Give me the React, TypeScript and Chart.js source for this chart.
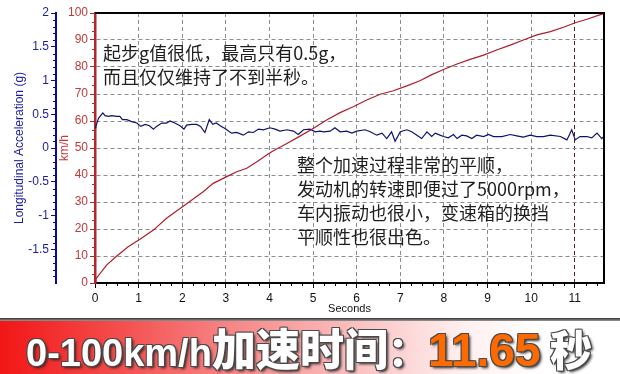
import React, { useEffect, useRef } from "react";
import { Chart, registerables } from "chart.js";

Chart.register(...registerables);

// ---- data ----
const SPEED_TIME = [0, 0.02, 0.27, 0.5, 0.76, 1.03, 1.34, 1.64, 2.03, 2.48, 2.71, 3.02, 3.25, 3.48, 3.72, 3.97, 4.09, 4.4, 4.7, 5.01, 5.31, 5.62, 5.92, 6.23, 6.54, 6.84, 7.15, 7.45, 7.7, 7.99, 8.3, 8.6, 8.91, 9.21, 9.52, 9.82, 10.13, 10.44, 10.74, 11.01, 11.28, 11.62, 11.67];
const SPEED_KMH = [0, 1.5, 6.7, 10, 13.4, 16.2, 19.6, 24, 28.5, 33.8, 36.9, 39.4, 41.2, 42.5, 45.0, 47.8, 49, 51.7, 54.4, 57.3, 60.4, 63.1, 65.3, 67.8, 69.9, 71.2, 73, 74.9, 77, 79.1, 81.1, 82.8, 84.4, 86.3, 88.1, 90, 91.9, 93.1, 94.7, 96.4, 97.7, 99.6, 100];

const ACCEL_TIME = [0, 0.02, 0.08, 0.18, 0.23, 0.31, 0.38, 0.5, 0.57, 0.63, 0.73, 0.84, 0.96, 1.05, 1.15, 1.25, 1.34, 1.41, 1.53, 1.64, 1.72, 1.83, 1.95, 2.04, 2.1, 2.22, 2.33, 2.42, 2.52, 2.62, 2.7, 2.78, 2.87, 2.98, 3.13, 3.25, 3.4, 3.52, 3.63, 3.75, 3.86, 4.01, 4.13, 4.24, 4.4, 4.55, 4.66, 4.78, 4.93, 5.05, 5.16, 5.24, 5.39, 5.5, 5.62, 5.77, 5.89, 6.0, 6.19, 6.31, 6.46, 6.58, 6.69, 6.8, 6.88, 7.0, 7.15, 7.26, 7.38, 7.49, 7.61, 7.72, 7.8, 7.91, 7.99, 8.1, 8.22, 8.3, 8.41, 8.52, 8.64, 8.75, 8.91, 9.02, 9.14, 9.33, 9.52, 9.67, 9.82, 9.98, 10.13, 10.28, 10.44, 10.67, 10.82, 10.93, 11.01, 11.12, 11.28, 11.39, 11.51, 11.62, 11.66];
const ACCEL_G = [0.3, 0.32, 0.44, 0.52, 0.48, 0.47, 0.48, 0.47, 0.47, 0.42, 0.42, 0.39, 0.37, 0.32, 0.35, 0.33, 0.28, 0.32, 0.37, 0.37, 0.4, 0.37, 0.33, 0.28, 0.34, 0.35, 0.35, 0.32, 0.23, 0.42, 0.35, 0.37, 0.33, 0.29, 0.22, 0.23, 0.19, 0.24, 0.23, 0.28, 0.27, 0.3, 0.28, 0.25, 0.27, 0.25, 0.2, 0.27, 0.28, 0.24, 0.25, 0.24, 0.25, 0.3, 0.24, 0.25, 0.22, 0.25, 0.27, 0.24, 0.19, 0.22, 0.14, 0.24, 0.1, 0.24, 0.27, 0.24, 0.19, 0.14, 0.24, 0.17, 0.22, 0.19, 0.17, 0.15, 0.2, 0.14, 0.19, 0.18, 0.14, 0.19, 0.17, 0.2, 0.17, 0.17, 0.2, 0.18, 0.16, 0.19, 0.17, 0.17, 0.19, 0.17, 0.12, 0.27, 0.12, 0.17, 0.17, 0.15, 0.22, 0.14, 0.17];

const X_TICKS = [0, 1, 2, 3, 4, 5, 6, 7, 8, 9, 10, 11];
const X_MAX = 11.67;
const KMH_TICKS = [0, 10, 20, 30, 40, 50, 60, 70, 80, 90, 100];
const G_TICKS = [2, 1.5, 1, 0.5, 0, -0.5, -1, -1.5];

const X_TITLE = "Seconds";
const KMH_TITLE = "km/h";
const G_TITLE = "Longitudinal Acceleration (g)";

const NOTE_1 = ["起步g值很低，最高只有0.5g，", "而且仅仅维持了不到半秒。"];
const NOTE_2 = ["整个加速过程非常的平顺，", "发动机的转速即便过了5000rpm，", "车内振动也很小，变速箱的换挡", "平顺性也很出色。"];
const BANNER_LATIN = "0-100km/h";
const BANNER_CJK = "加速时间";
const BANNER_COLON = "：";
const BANNER_VALUE = "11.65";
const BANNER_UNIT = "秒";

const RED = "#b3262b";
const BLUE = "#0a0aa0";
const GRID = "#8c8c8c";

const frame = {
  id: "frame",
  afterDraw(chart: any) {
    const { ctx, chartArea: a, scales } = chart;
    ctx.save();
    ctx.strokeStyle = "#000";
    ctx.lineWidth = 2;
    ctx.beginPath();
    ctx.moveTo(a.left, a.top);
    ctx.lineTo(a.right, a.top);
    ctx.lineTo(a.right, a.bottom);
    ctx.stroke();
    ctx.lineWidth = 1;
    const x = scales.x;
    ctx.strokeStyle = "#000";
    ctx.beginPath();
    for (let v = 0.25; v < X_MAX; v += 0.25) {
      if (Math.abs(v - Math.round(v)) < 1e-6) continue;
      const px = Math.round(x.getPixelForValue(v)) + 0.5;
      ctx.moveTo(px, a.bottom);
      ctx.lineTo(px, a.bottom + 3);
    }
    ctx.stroke();
    const k = scales.yKmh;
    ctx.strokeStyle = RED;
    ctx.beginPath();
    for (let v = 0; v < 100; v += 10) {
      for (const f of [10 / 3, 20 / 3]) {
        const py = Math.round(k.getPixelForValue(v + f)) + 0.5;
        ctx.moveTo(k.right - 3, py);
        ctx.lineTo(k.right, py);
      }
    }
    ctx.stroke();
    const g = scales.yG;
    ctx.strokeStyle = BLUE;
    ctx.beginPath();
    for (let i = -20; i <= 20; i++) {
      if (i % 5 === 0) continue;
      const py = Math.round(g.getPixelForValue(i / 10)) + 0.5;
      ctx.moveTo(g.right - 3, py);
      ctx.lineTo(g.right, py);
    }
    ctx.stroke();
    ctx.restore();
  },
};

function ChartCanvas() {
  const ref = useRef<HTMLCanvasElement>(null);
  useEffect(() => {
    if (!ref.current) return;
    Chart.defaults.font.family = "'Liberation Sans', Arial, sans-serif";
    const speed = SPEED_TIME.map((t, i) => ({ x: t, y: SPEED_KMH[i] }));
    const accel = ACCEL_TIME.map((t, i) => ({ x: t, y: ACCEL_G[i] }));
    const chart = new Chart(ref.current, {
      type: "line",
      data: {
        datasets: [
          {
            label: "Speed",
            data: speed,
            yAxisID: "yKmh",
            borderColor: "#b01c2c",
            borderWidth: 1.2,
            pointRadius: 0,
            tension: 0,
          },
          {
            label: "Acceleration",
            data: accel,
            yAxisID: "yG",
            borderColor: "#101070",
            borderWidth: 1.2,
            pointRadius: 0,
            tension: 0,
          },
        ],
      },
      options: {
        responsive: false,
        animation: false,
        devicePixelRatio: 1,
        layout: { padding: { top: 13, right: 16, left: 0, bottom: 0 } },
        plugins: { legend: { display: false }, tooltip: { enabled: false } },
        scales: {
          x: {
            type: "linear",
            min: 0,
            max: X_MAX,
            afterBuildTicks: (s: any) => {
              s.ticks = X_TICKS.map((v) => ({ value: v }));
            },
            afterFit: (s: any) => {
              s.height = 37;
            },
            grid: {
              color: (c: any) => {
                const v = c.tick ? c.tick.value : -1;
                if (v === 0) return "rgba(0,0,0,0)";
                if (v === 11) return "#5a2020";
                return GRID;
              },
              lineWidth: 1,
              tickLength: 5,
              tickColor: "#000",
            },
            border: { color: "#000", width: 2, dash: [4, 3] },
            ticks: {
              color: "#111",
              font: { size: 12 },
              padding: 3,
              maxRotation: 0,
              autoSkip: false,
              callback: (v: any) => String(v),
            },
            title: {
              display: true,
              text: X_TITLE,
              color: "#111",
              font: { size: 11 },
              padding: { top: 0, bottom: 4 },
            },
          },
          yKmh: {
            type: "linear",
            position: "left",
            weight: 0,
            min: 0,
            max: 100,
            afterBuildTicks: (s: any) => {
              s.ticks = KMH_TICKS.map((v) => ({ value: v }));
            },
            afterFit: (s: any) => {
              s.width = 39;
            },
            grid: {
              color: (c: any) => {
                const v = c.tick ? c.tick.value : -1;
                if (v === 0 || v === 100) return "rgba(0,0,0,0)";
                return GRID;
              },
              lineWidth: 1,
              tickLength: 5,
              tickColor: RED,
            },
            border: { color: RED, width: 2.5, dash: [4, 3] },
            ticks: {
              color: "#c23a3a",
              font: { size: 12 },
              padding: 2,
              autoSkip: false,
              callback: (v: any) => String(v),
            },
            title: {
              display: true,
              text: KMH_TITLE,
              color: "#c23a3a",
              font: { size: 12 },
              padding: { top: 1, bottom: 0 },
            },
          },
          yG: {
            type: "linear",
            position: "left",
            weight: 1,
            min: -2,
            max: 2,
            afterBuildTicks: (s: any) => {
              s.ticks = G_TICKS.map((v) => ({ value: v }));
            },
            afterFit: (s: any) => {
              s.width = 56;
            },
            grid: {
              drawOnChartArea: false,
              tickLength: 5,
              tickColor: BLUE,
            },
            border: { color: BLUE, width: 2 },
            ticks: {
              color: "#1c1c9c",
              font: { size: 12 },
              padding: 2,
              autoSkip: false,
              callback: (v: any) => String(v),
            },
            title: {
              display: true,
              text: G_TITLE,
              color: "#1c1c9c",
              font: { size: 12 },
              padding: { top: 12, bottom: 0 },
            },
          },
        },
      },
      plugins: [frame],
    });
    return () => chart.destroy();
  }, []);
  return <canvas ref={ref} width={620} height={320} style={{ display: "block" }} />;
}

const noteStyle: React.CSSProperties = {
  position: "absolute",
  fontFamily: "'Noto Sans CJK SC', sans-serif",
  fontSize: 18,
  lineHeight: "24px",
  color: "#1e1e1e",
  whiteSpace: "nowrap",
};

const outline = "-1px -1px 0 #4a4a4a, 1px -1px 0 #4a4a4a, -1px 1px 0 #4a4a4a, 1px 1px 0 #4a4a4a, 2px 2px 3px #222";
const cjk = "'Noto Sans CJK SC', sans-serif";
const latin = "'Liberation Sans', Arial, sans-serif";

export default function App() {
  return (
    <div style={{ position: "fixed", left: 0, top: 0, width: 620, height: 374, background: "#fff", overflow: "hidden" }}>
      <ChartCanvas />
      <div style={{ ...noteStyle, left: 103, top: 40 }}>
        {NOTE_1.map((l, i) => (
          <div key={i}>{l}</div>
        ))}
      </div>
      <div style={{ ...noteStyle, left: 297, top: 152 }}>
        {NOTE_2.map((l, i) => (
          <div key={i}>{l}</div>
        ))}
      </div>
      <div
        style={{
          position: "absolute",
          left: 0,
          top: 318,
          width: 620,
          height: 56,
          background: "linear-gradient(to right, #f21616 0%, #f44a4a 18%, #f78e8e 40%, #fbc8c8 60%, #fff0f0 75%, #ffffff 88%)",
        }}
      >
        <div style={{ height: 3, background: "linear-gradient(to bottom, #333, #999)" }} />
        <div
          style={{
            position: "absolute",
            left: 26,
            top: 3,
            height: 53,
            lineHeight: "53px",
            fontWeight: 700,
            whiteSpace: "nowrap",
            color: "#fff",
            textShadow: outline,
          }}
        >
          <span style={{ fontFamily: latin, fontSize: 38 }}>{BANNER_LATIN}</span>
          <span style={{ fontFamily: cjk, fontSize: 44, fontWeight: 900 }}>{BANNER_CJK}</span>
          <span style={{ fontFamily: cjk, fontSize: 40, fontWeight: 900 }}>{BANNER_COLON}</span>
          <span style={{ fontFamily: latin, fontSize: 46, color: "#ff6a00" }}>{BANNER_VALUE}</span>
          <span style={{ fontFamily: cjk, fontSize: 42, fontWeight: 900 }}> {BANNER_UNIT}</span>
        </div>
      </div>
    </div>
  );
}
